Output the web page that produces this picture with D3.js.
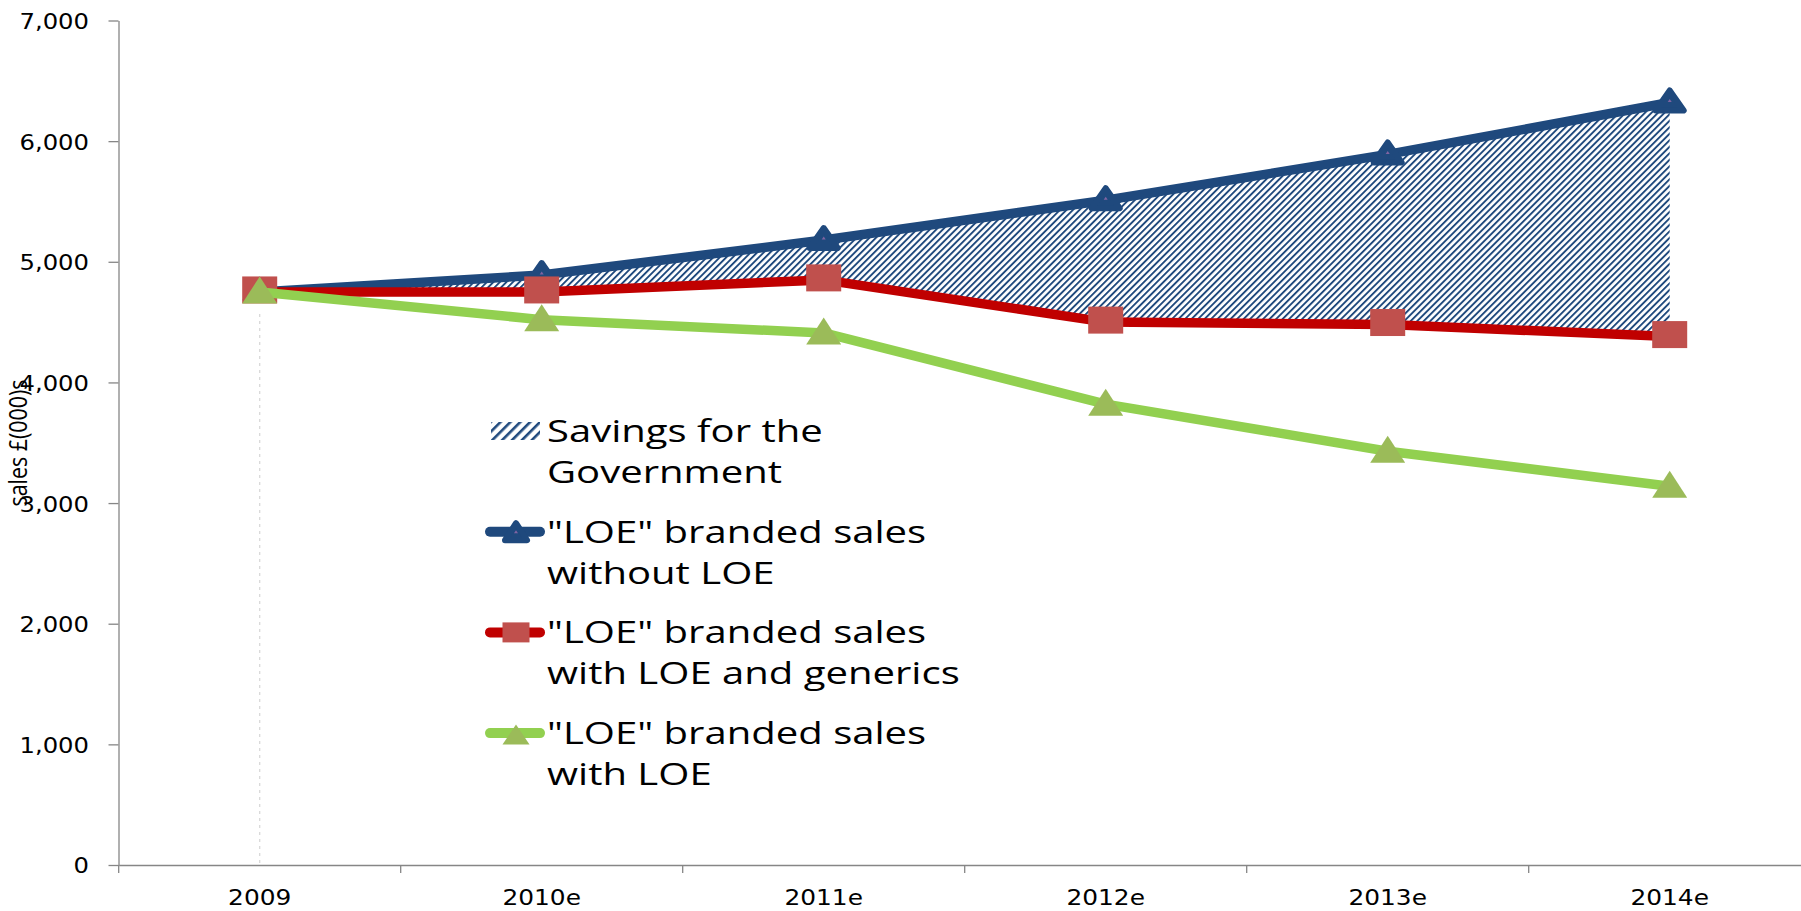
<!DOCTYPE html>
<html>
<head>
<meta charset="utf-8">
<script src="https://cdn.jsdelivr.net/npm/d3@7"></script>
<style>
	body { margin: 0; background: #fff; overflow: hidden; }
</style>
</head>
<body>
<svg id="chart" width="1801" height="911"></svg>
<script>
var categories = ["2009", "2010e", "2011e", "2012e", "2013e", "2014e"];
var withoutLoe = [4750, 4890, 5180, 5510, 5890, 6320];
var withLoeGenerics = [4750, 4750, 4850, 4500, 4480, 4380];
var withLoe = [4750, 4520, 4410, 3820, 3430, 3140];
var yTicks = [0, 1000, 2000, 3000, 4000, 5000, 6000, 7000];
var yTitle = "sales £(000)s";
var legendLabels = [
	["Savings for the", "Government"],
	["\"LOE\" branded sales", "without LOE"],
	["\"LOE\" branded sales", "with LOE and generics"],
	["\"LOE\" branded sales", "with LOE"]
];

var BLUE = "#1F497D";
var RED_LINE = "#C00000";
var RED_MARK = "#C0504D";
var GREEN_LINE = "#92D050";
var GREEN_MARK = "#9BBB59";
var AXIS = "#868686";

var svg = d3.select("#chart");

var x = d3.scaleBand().domain(categories).range([118.7, 1810.7]);
var y = d3.scaleLinear().domain([0, 7000]).range([865, 20.5]);

function cx(i){ return x(categories[i]) + x.bandwidth() / 2; }

// hatch patterns (plot and legend swatch)
var defs = svg.append("defs");
defs.append("pattern")
	.attr("id", "hatch")
	.attr("patternUnits", "userSpaceOnUse")
	.attr("width", 4.6).attr("height", 10)
	.attr("patternTransform", "rotate(45)")
	.append("rect").attr("width", 1.9).attr("height", 10).attr("fill", BLUE);
defs.append("pattern")
	.attr("id", "hatchLegend")
	.attr("patternUnits", "userSpaceOnUse")
	.attr("width", 7).attr("height", 10)
	.attr("patternTransform", "rotate(45)")
	.append("rect").attr("width", 2.6).attr("height", 10).attr("fill", BLUE);

function triPath(w, h){
	return "M0," + (-h / 2) + "L" + (w / 2) + "," + (h / 2) + "L" + (-w / 2) + "," + (h / 2) + "Z";
}

// y axis
var yAxis = svg.append("g")
	.attr("transform", "translate(118.5,0)")
	.call(d3.axisLeft(y).tickValues(yTicks).tickSize(10).tickSizeOuter(0).tickFormat(d3.format(",")));
yAxis.attr("font-family", "'DejaVu Sans', Verdana, sans-serif").attr("font-size", 21.5);
yAxis.select(".domain").attr("stroke", AXIS).attr("stroke-width", 1.3);
yAxis.selectAll(".tick line").attr("stroke", AXIS).attr("stroke-width", 1.3);
yAxis.selectAll(".tick text")
	.attr("x", 0).attr("dy", "0.37em")
	.attr("fill", "#000")
	.attr("transform", "translate(-29.5,0) scale(1.13,1)");

// x axis: labels centred, ticks between categories
var xAxis = svg.append("g")
	.attr("transform", "translate(0,865)")
	.call(d3.axisBottom(x).tickSize(0).tickSizeOuter(0).tickPadding(0));
xAxis.attr("font-family", "'DejaVu Sans', Verdana, sans-serif").attr("font-size", 22);
xAxis.select(".domain").attr("stroke", AXIS).attr("stroke-width", 1.3);
xAxis.selectAll(".tick text")
	.attr("y", 40).attr("dy", null)
	.attr("fill", "#000")
	.attr("transform", "scale(1.13,1)");
xAxis.selectAll("line.sep")
	.data(categories)
	.enter().append("line")
	.attr("class", "sep")
	.attr("x1", function(d){ return x(d); })
	.attr("x2", function(d){ return x(d); })
	.attr("y1", 0).attr("y2", 8)
	.attr("stroke", AXIS).attr("stroke-width", 1.3);

// y title
svg.append("text")
	.attr("transform", "translate(27,443) rotate(-90) scale(1.07,1.25)")
	.attr("text-anchor", "middle")
	.attr("font-family", "'Open Sans', sans-serif")
	.attr("font-size", 20)
	.text(yTitle);

// savings area
var area = d3.area()
	.x(function(d, i){ return cx(i); })
	.y0(function(d, i){ return y(withLoeGenerics[i]); })
	.y1(function(d){ return y(d); });
svg.append("path")
	.datum(withoutLoe)
	.attr("d", area)
	.attr("fill", "url(#hatch)");

// drop line at first category
svg.append("line")
	.attr("x1", cx(0)).attr("x2", cx(0))
	.attr("y1", y(withLoe[0]) + 22).attr("y2", y(0))
	.attr("stroke", "#d9d9d9").attr("stroke-width", 1.3)
	.attr("stroke-dasharray", "3,4");

var line = d3.line()
	.x(function(d, i){ return cx(i); })
	.y(function(d){ return y(d); });

function drawLine(values, color){
	svg.append("path")
		.datum(values)
		.attr("d", line)
		.attr("fill", "none")
		.attr("stroke", color)
		.attr("stroke-width", 9.5)
		.attr("stroke-linejoin", "round")
		.attr("stroke-linecap", "round");
}

function blueMarker(g){
	g.append("path").attr("d", triPath(28, 20))
		.attr("fill", BLUE).attr("stroke", BLUE)
		.attr("stroke-width", 6).attr("stroke-linejoin", "round");
	g.append("path").attr("d", triPath(4, 3)).attr("fill", "#8064A2");
}
function redMarker(g, w, h){
	g.append("rect").attr("x", -w / 2).attr("y", -h / 2)
		.attr("width", w).attr("height", h).attr("fill", RED_MARK);
}
function greenMarker(g, w, h){
	g.append("path").attr("d", triPath(w, h)).attr("fill", GREEN_MARK);
}

function drawMarkers(values, fn){
	svg.append("g").selectAll("g")
		.data(values)
		.enter().append("g")
		.attr("transform", function(d, i){ return "translate(" + cx(i) + "," + (y(d) - 2) + ")"; })
		.each(function(){ fn(d3.select(this), 35, 27); });
}

drawLine(withoutLoe, BLUE);
drawMarkers(withoutLoe, blueMarker);
drawLine(withLoeGenerics, RED_LINE);
drawMarkers(withLoeGenerics, redMarker);
drawLine(withLoe, GREEN_LINE);
drawMarkers(withLoe, greenMarker);

// legend
var legend = svg.append("g");
legendLabels.forEach(function(lines, i){
	var b = 442 + i * 100.7;
	var item = legend.append("g");
	if (i === 0){
		item.append("rect")
			.attr("x", 491).attr("y", b - 20)
			.attr("width", 49).attr("height", 18)
			.attr("fill", "url(#hatchLegend)");
	} else {
		var color = [null, BLUE, RED_LINE, GREEN_LINE][i];
		item.append("line")
			.attr("x1", 490).attr("x2", 540)
			.attr("y1", b - 11).attr("y2", b - 11)
			.attr("stroke", color).attr("stroke-width", 10)
			.attr("stroke-linecap", "round");
		var m = item.append("g").attr("transform", "translate(516," + (b - 11) + ")");
		if (i === 1){
			m.append("path").attr("d", triPath(22, 17))
				.attr("fill", BLUE).attr("stroke", BLUE)
				.attr("stroke-width", 6).attr("stroke-linejoin", "round");
			m.append("path").attr("d", triPath(4, 3)).attr("fill", "#8064A2");
		} else if (i === 2){
			redMarker(m, 27, 20);
		} else {
			m.attr("transform", "translate(516," + (b - 9.5) + ")");
			greenMarker(m, 27, 20);
		}
	}
	var t = item.append("text")
		.attr("transform", "translate(547," + b + ") scale(1.3,1)")
		.attr("font-family", "'Open Sans', sans-serif")
		.attr("font-size", 30.8)
		.attr("fill", "#000");
	t.selectAll("tspan")
		.data(lines)
		.enter().append("tspan")
		.attr("x", 0)
		.attr("y", function(d, j){ return j * 41; })
		.text(function(d){ return d; });
});
</script>
</body>
</html>
